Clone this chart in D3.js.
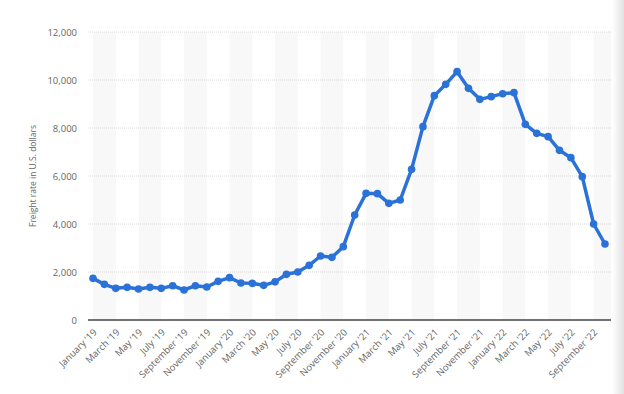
<!DOCTYPE html>
<html><head><meta charset="utf-8">
<script src="https://cdn.jsdelivr.net/npm/d3@7"></script>
<style>
html,body{margin:0;padding:0;background:#fff;}
svg{display:block;font-family:"Open Sans",sans-serif;}
</style></head>
<body>
<svg id="chart" width="624" height="394"></svg>
<script>
const monthNames = ["January","February","March","April","May","June","July","August","September","October","November","December"];
const years = ["19","20","21","22"];
const categories = [];
years.forEach(yr => monthNames.forEach(m => categories.push(m + " '" + yr)));
categories.splice(46); // January '19 .. October '22

const values = [1736,1486,1319,1361,1292,1361,1319,1430,1250,1430,1375,1611,
                1764,1542,1528,1444,1590,1903,2000,2278,2667,2611,3056,4375,
                5278,5264,4861,5000,6278,8056,9347,9819,10347,9653,9194,9306,
                9430,9472,8153,7778,7639,7069,6764,5972,4000,3167];
const yTicks = [0,2000,4000,6000,8000,10000,12000];
const yTitle = "Freight rate in U.S. dollars";

const svg = d3.select("#chart");
const plotLeft = 88, plotRight = 611, plotTop = 32, plotBottom = 320;

const x = d3.scalePoint().domain(categories).range([93, 605]);
const step = x.step();
const y = d3.scaleLinear().domain([0,12000]).range([plotBottom, plotTop]);

// right edge shadow strip
const grad = svg.append("defs").append("linearGradient").attr("id","edge").attr("x1","0").attr("x2","1");
grad.append("stop").attr("offset","0").attr("stop-color","#ffffff");
grad.append("stop").attr("offset","1").attr("stop-color","#e2e2e2");
svg.append("rect").attr("x",612).attr("y",0).attr("width",12).attr("height",394).attr("fill","url(#edge)");

// alternating stripes between labeled ticks
const stripeIdx = d3.range(0, categories.length, 4);
svg.append("g").selectAll("rect").data(stripeIdx).join("rect")
  .attr("x", i => x(categories[i]))
  .attr("y", plotTop)
  .attr("width", i => Math.min(x(categories[i]) + 2*step, plotRight) - x(categories[i]))
  .attr("height", plotBottom - plotTop)
  .attr("fill", "#f8f8f8");

// gridlines
svg.append("g").selectAll("line").data(yTicks.filter(t => t > 0)).join("line")
  .attr("x1", plotLeft).attr("x2", plotRight)
  .attr("y1", d => y(d)).attr("y2", d => y(d))
  .attr("stroke", "#d8d8d8").attr("stroke-width", 1).attr("stroke-dasharray", "1,1");

// y axis labels
const yAxis = d3.axisLeft(y).tickValues(yTicks).tickSize(0).tickPadding(0)
  .tickFormat(d3.format(","));
const yg = svg.append("g").attr("transform", `translate(77,0)`).call(yAxis);
yg.select(".domain").remove();
yg.selectAll("text").attr("fill","#666").style("font-size","9.5px").style("font-family","'Open Sans',sans-serif");

// y title
svg.append("text").attr("transform","translate(36,176) rotate(-90)")
  .attr("text-anchor","middle").attr("fill","#666").style("font-size","8.5px")
  .text(yTitle);

// x axis line
svg.append("line").attr("x1", plotLeft).attr("x2", plotRight).attr("y1", plotBottom).attr("y2", plotBottom)
  .attr("stroke","#444").attr("stroke-width",1.5);

// x labels
const labelCats = categories.filter((c,i) => i % 2 === 0);
const xAxis = d3.axisBottom(x).tickValues(labelCats).tickSize(0).tickPadding(0);
const xg = svg.append("g").attr("transform", `translate(0,${plotBottom})`).call(xAxis);
xg.select(".domain").remove();
xg.selectAll("text")
  .attr("text-anchor","end").attr("fill","#666").style("font-size","9.5px")
  .style("font-family","'Open Sans',sans-serif")
  .attr("y",0).attr("dy","0")
  .attr("transform","translate(4,13) rotate(-45)");

// line
const line = d3.line().x((d,i) => x(categories[i])).y(d => y(d));
svg.append("path").datum(values).attr("d", line)
  .attr("fill","none").attr("stroke","#2a72d8").attr("stroke-width",3.5)
  .attr("stroke-linejoin","round").attr("stroke-linecap","round");
svg.append("g").selectAll("circle").data(values).join("circle")
  .attr("cx",(d,i) => x(categories[i])).attr("cy", d => y(d)).attr("r",3.8)
  .attr("fill","#2a72d8");
</script>
</body></html>
